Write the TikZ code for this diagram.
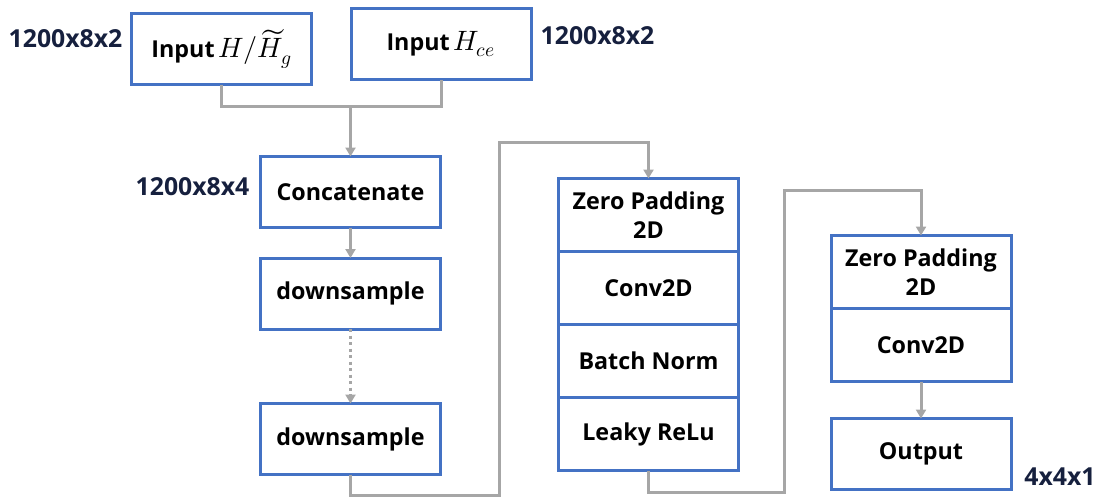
\documentclass[tikz,border=0pt]{standalone}
\usepackage{fontspec}
\usepackage{unicode-math}
\setmainfont{Open Sans}
\setmathfont{Latin Modern Math}
\usetikzlibrary{arrows.meta,positioning}
\definecolor{boxblue}{RGB}{68,114,196}
\definecolor{conngray}{RGB}{166,166,166}
\definecolor{dimnavy}{RGB}{22,32,62}
\newcommand{\bigmath}[1]{{\fontsize{28}{30}\selectfont\(#1\)}}
\tikzset{
  blk/.style={draw=boxblue, line width=3pt, fill=white, minimum width=180pt, minimum height=71pt,
    outer sep=0pt, inner sep=2pt, align=center, font=\fontsize{23.3}{29}\selectfont\bfseries},
  row/.style={blk, minimum height=73pt},
  conn/.style={draw=conngray, line width=3pt},
  arr/.style={conn, -{Triangle[width=10pt,length=9pt]}},
  dimlbl/.style={text=dimnavy, inner sep=0pt, font=\fontsize{24.8}{28}\selectfont\bfseries},
}
\begin{document}
\begin{tikzpicture}[x=1pt,y=-1pt]
\useasboundingbox (0,0) rectangle (1099,499);
% left column
\node[blk] (in1) at (221.5,49) {Input\,\bigmath{H/\widetilde{H}_{g}}};
\node[blk] (in2) at (441,44) {Input\,\bigmath{H_{ce}}};
\node[blk] (cat) at (350.5,192) {Concatenate};
\node[blk] (ds1) at (350.5,293.5) {downsample};
\node[blk] (ds2) at (350.5,439) {downsample};
% first stack
\node[row, anchor=north] (zp1) at (648.5,178.5) {Zero Padding\\2D};
\node[row, below=0pt of zp1] (cv1) {Conv2D};
\node[row, below=0pt of cv1] (bn1) {Batch Norm};
\node[row, below=0pt of bn1] (lr1) {Leaky ReLu};
% second stack
\node[row, anchor=north] (zp2) at (921,235.5) {Zero Padding\\2D};
\node[row, below=0pt of zp2] (cv2) {Conv2D};
\node[blk] (out) at (921,454) {Output};
% dimension labels
\node[dimlbl] (l1) at (65.5,39) {1200x8x2};
\node[dimlbl] (l2) at (597.5,36) {1200x8x2};
\node[dimlbl] (l3) at (192.5,187) {1200x8x4};
\node[dimlbl] (l4) at (1060,477) {4x4x1};
% connectors
\coordinate (j) at (350.5,106);
\draw[conn] (in1.south) |- (j) -| (in2.south);
\draw[arr] (j) -- (cat.north);
\draw[arr] (cat.south) -- (ds1.north);
\draw[arr, dash pattern=on 3pt off 3.5pt] (ds1.south) -- (ds2.north);
\coordinate (r1) at (499,495);
\coordinate (t1) at (499,142);
\draw[arr] (ds2.south) |- (r1) -- (t1) -| (zp1.north);
\coordinate (r2) at (784,492);
\coordinate (t2) at (784,190);
\draw[arr] (lr1.south) |- (r2) -- (t2) -| (zp2.north);
\draw[arr] (cv2.south) -- (out.north);
\end{tikzpicture}
\end{document}
